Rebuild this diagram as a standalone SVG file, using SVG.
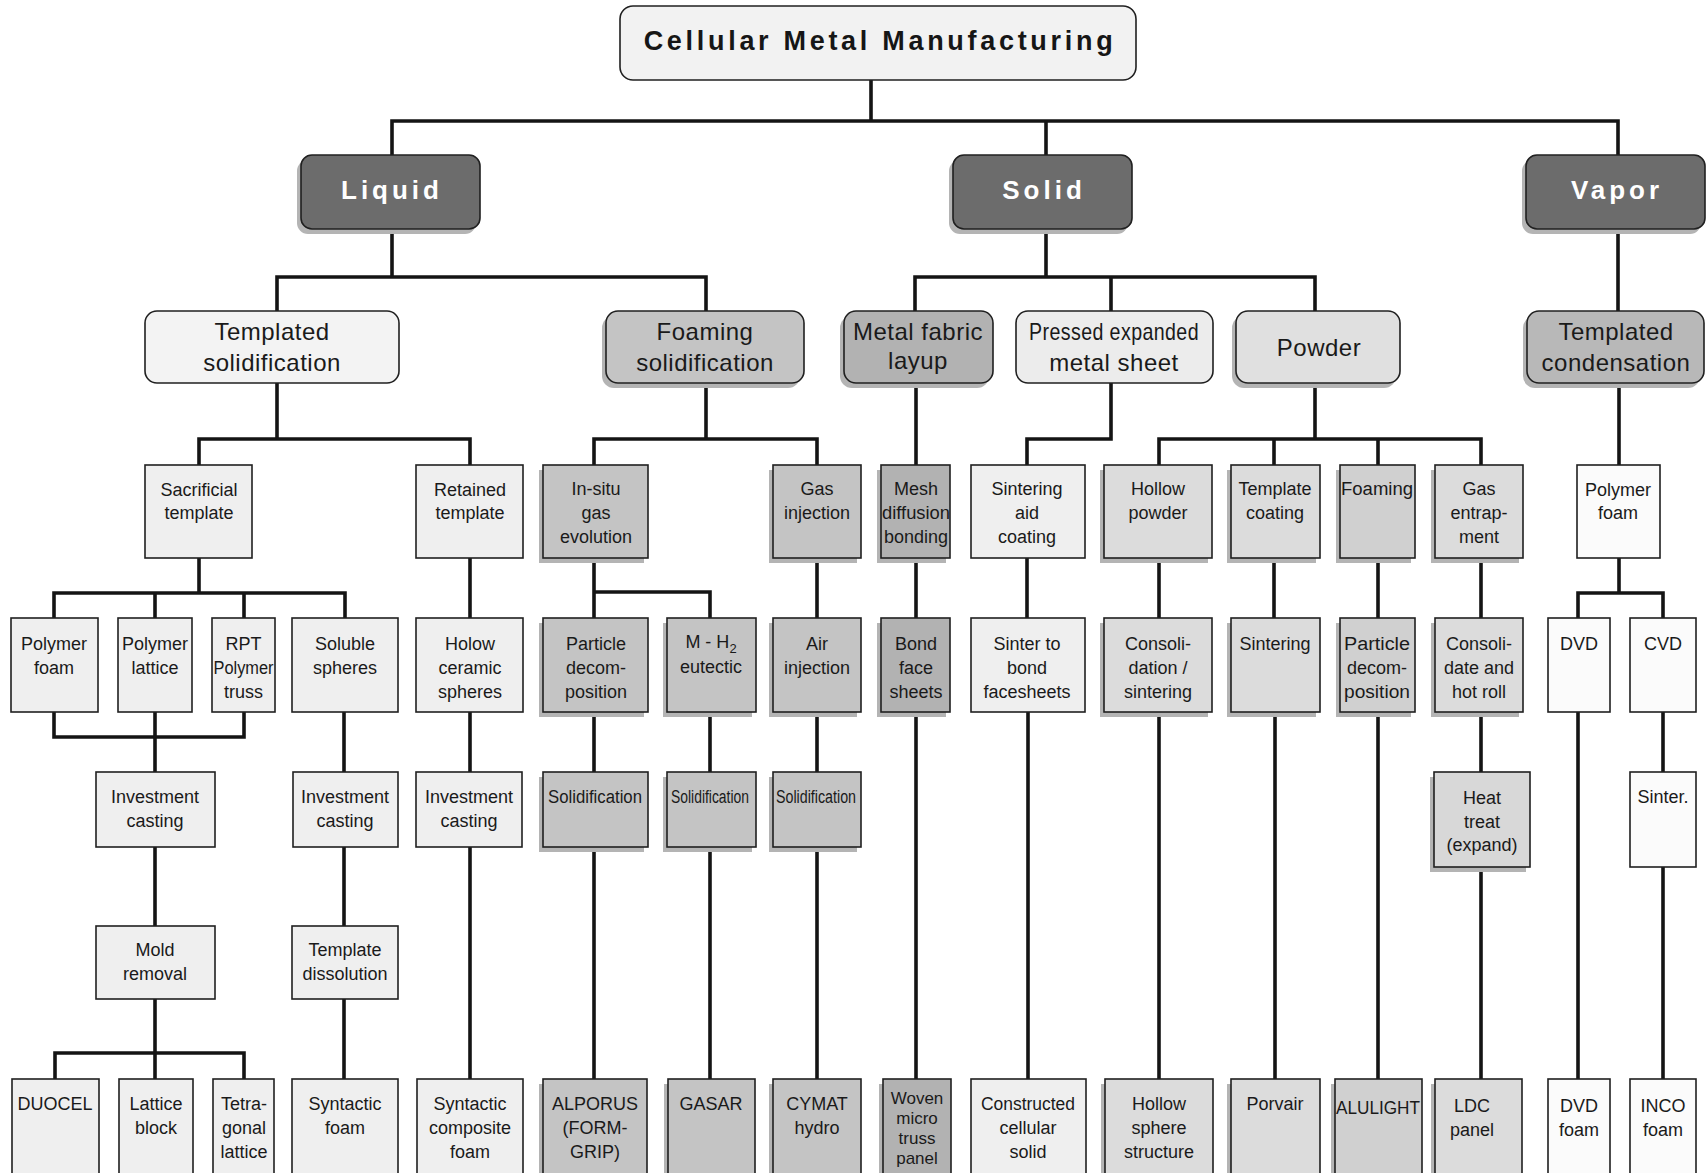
<svg xmlns="http://www.w3.org/2000/svg" width="1708" height="1173" viewBox="0 0 1708 1173">
<style>
.bg{fill:#ffffff}
.c{fill:none;stroke:#141414;stroke-width:3.6;stroke-linecap:square;stroke-linejoin:miter}
.b{stroke:#202020;stroke-width:1.6}
.sh{fill:#b4b4b4}
.w{fill:#fbfbfb}.l{fill:#efefef}.g1{fill:#dcdcdc}.g2{fill:#d0d0d0}.g3{fill:#c4c4c4}.g4{fill:#b2b2b2}.dk{fill:#6c6c6c}
.t{font-family:"Liberation Sans",Arial,Helvetica,sans-serif;font-size:18px;fill:#1a1a1a;text-anchor:middle}
.t2{font-family:"Liberation Sans",Arial,Helvetica,sans-serif;font-size:24px;fill:#1a1a1a;text-anchor:middle;letter-spacing:0.5px}
.t1{font-family:"Liberation Sans",Arial,Helvetica,sans-serif;font-size:26px;font-weight:bold;fill:#ffffff;text-anchor:middle;letter-spacing:4px}
.t0{font-family:"Liberation Sans",Arial,Helvetica,sans-serif;font-size:27px;font-weight:bold;fill:#161616;text-anchor:middle;letter-spacing:3.7px}
</style>
<rect class="bg" x="0" y="0" width="1708" height="1173"/>

<g id="connectors">
<path class="c" d="M871 80V121M392 121H1618M392 121V155M1046 121V155M1618 121V155"/>
<path class="c" d="M392 229V277M277 277H706M277 277V311M706 277V311"/>
<path class="c" d="M1046 229V277M915 277H1315M915 277V311M1111 277V311M1315 277V311"/>
<path class="c" d="M1618 229V311"/>
<path class="c" d="M277 383V439M199 439H470M199 439V465M470 439V465"/>
<path class="c" d="M706 383V439M594 439H817M594 439V465M817 439V465"/>
<path class="c" d="M916 383V465"/>
<path class="c" d="M1111 383V439H1027V465"/>
<path class="c" d="M1315 383V439M1159 439H1481M1159 439V465M1274 439V465M1378 439V465M1481 439V465"/>
<path class="c" d="M1619 383V465"/>
<path class="c" d="M199 558V593M54 593H345M54 593V618M155 593V618M244 593V618M345 593V618"/>
<path class="c" d="M470 558V618"/>
<path class="c" d="M594 558V618M594 592H710V618"/>
<path class="c" d="M817 558V618M916 558V618M1027 558V618"/>
<path class="c" d="M1159 558V618M1274 558V618M1378 558V618M1481 558V618"/>
<path class="c" d="M1619 558V593M1578 593H1663M1578 593V618M1663 593V618"/>
<path class="c" d="M54 712V737H244V712M155 712V772"/>
<path class="c" d="M344 712V772M470 712V772"/>
<path class="c" d="M594 712V772M710 712V772M817 712V772"/>
<path class="c" d="M916 712V1079M1028 712V1079M1159 712V1079M1275 712V1079M1378 712V1079"/>
<path class="c" d="M1481 712V772M1481 867V1079M1578 712V1079M1663 712V772M1663 867V1079"/>
<path class="c" d="M155 847V926M155 999V1053M55 1053H244M55 1053V1079M155 1053V1079M244 1053V1079"/>
<path class="c" d="M344 847V926M344 999V1079M470 847V1079"/>
<path class="c" d="M594 847V1079M710 847V1079M817 847V1079"/>
</g>

<g id="n-title">
<rect class="b" x="620" y="6" width="516" height="74" rx="13" fill="#f2f2f2"/>
<text class="t0" x="880" y="50">Cellular Metal Manufacturing</text>
</g>

<g id="n-liquid">
<rect class="sh" x="297" y="160" width="179" height="74" rx="11" fill="#9a9a9a"/>
<rect class="b dk" x="301" y="155" width="179" height="74" rx="11"/>
<text class="t1" x="392" y="199">Liquid</text>
</g>
<g id="n-solid">
<rect class="sh" x="949" y="160" width="179" height="74" rx="11"/>
<rect class="b dk" x="953" y="155" width="179" height="74" rx="11"/>
<text class="t1" x="1044" y="199">Solid</text>
</g>
<g id="n-vapor">
<rect class="sh" x="1522" y="160" width="179" height="74" rx="11"/>
<rect class="b dk" x="1526" y="155" width="179" height="74" rx="11"/>
<text class="t1" x="1617" y="199">Vapor</text>
</g>

<g id="n-templated-solidification">
<rect class="b" x="145" y="311" width="254" height="72" rx="12" fill="#f3f3f3"/>
<text class="t2"><tspan x="272" y="340">Templated</tspan><tspan x="272" y="371">solidification</tspan></text>
</g>
<g id="n-foaming-solidification">
<rect class="sh" x="602" y="316" width="198" height="72" rx="12"/>
<rect class="b g3" x="606" y="311" width="198" height="72" rx="12"/>
<text class="t2"><tspan x="705" y="340">Foaming</tspan><tspan x="705" y="371">solidification</tspan></text>
</g>
<g id="n-metal-fabric">
<rect class="sh" x="840" y="316" width="149" height="72" rx="12"/>
<rect class="b g4" x="844" y="311" width="149" height="72" rx="12"/>
<text class="t2"><tspan x="918" y="340">Metal fabric</tspan><tspan x="918" y="369">layup</tspan></text>
</g>
<g id="n-pressed">
<rect class="b" x="1016" y="311" width="197" height="72" rx="12" fill="#ececec"/>
<text class="t2"><tspan x="1114" y="340" textLength="170" lengthAdjust="spacingAndGlyphs">Pressed expanded</tspan><tspan x="1114" y="371">metal sheet</tspan></text>
</g>
<g id="n-powder">
<rect class="sh" x="1232" y="316" width="164" height="72" rx="12" fill="#cccccc"/>
<rect class="b" x="1236" y="311" width="164" height="72" rx="12" fill="#e0e0e0"/>
<text class="t2" x="1319" y="356">Powder</text>
</g>
<g id="n-templated-condensation">
<rect class="sh" x="1523" y="316" width="177" height="72" rx="12"/>
<rect class="b" x="1527" y="311" width="177" height="72" rx="12" fill="#b8b8b8"/>
<text class="t2"><tspan x="1616" y="340">Templated</tspan><tspan x="1616" y="371">condensation</tspan></text>
</g>

<!-- level 3 -->
<g id="n-sacrificial">
<rect class="b l" x="145" y="465" width="107" height="93"/>
<text class="t"><tspan x="199" y="496">Sacrificial</tspan><tspan x="199" y="519">template</tspan></text>
</g>
<g id="n-retained">
<rect class="b l" x="416" y="465" width="107" height="93"/>
<text class="t"><tspan x="470" y="496">Retained</tspan><tspan x="470" y="519">template</tspan></text>
</g>
<g id="n-insitu">
<rect class="sh" x="539" y="470" width="105" height="93"/>
<rect class="b g3" x="543" y="465" width="105" height="93"/>
<text class="t"><tspan x="596" y="495">In-situ</tspan><tspan x="596" y="519">gas</tspan><tspan x="596" y="543">evolution</tspan></text>
</g>
<g id="n-gas-injection">
<rect class="sh" x="769" y="470" width="88" height="93"/>
<rect class="b g3" x="773" y="465" width="88" height="93"/>
<text class="t"><tspan x="817" y="495">Gas</tspan><tspan x="817" y="519">injection</tspan></text>
</g>
<g id="n-mesh">
<rect class="sh" x="877" y="470" width="69" height="93"/>
<rect class="b g4" x="881" y="465" width="69" height="93"/>
<text class="t"><tspan x="916" y="495">Mesh</tspan><tspan x="916" y="519" textLength="68" lengthAdjust="spacingAndGlyphs">diffusion</tspan><tspan x="916" y="543">bonding</tspan></text>
</g>
<g id="n-sintering-aid">
<rect class="b l" x="971" y="465" width="114" height="93"/>
<text class="t"><tspan x="1027" y="495">Sintering</tspan><tspan x="1027" y="519">aid</tspan><tspan x="1027" y="543">coating</tspan></text>
</g>
<g id="n-hollow-powder">
<rect class="sh" x="1100" y="470" width="108" height="93" fill="#c8c8c8"/>
<rect class="b g1" x="1104" y="465" width="108" height="93"/>
<text class="t"><tspan x="1158" y="495">Hollow</tspan><tspan x="1158" y="519">powder</tspan></text>
</g>
<g id="n-template-coating">
<rect class="sh" x="1227" y="470" width="89" height="93" fill="#c8c8c8"/>
<rect class="b g1" x="1231" y="465" width="89" height="93"/>
<text class="t"><tspan x="1275" y="495">Template</tspan><tspan x="1275" y="519">coating</tspan></text>
</g>
<g id="n-foaming">
<rect class="sh" x="1336" y="470" width="75" height="93" fill="#c0c0c0"/>
<rect class="b g2" x="1340" y="465" width="75" height="93"/>
<text class="t" x="1377" y="495" textLength="72" lengthAdjust="spacingAndGlyphs">Foaming</text>
</g>
<g id="n-gas-entrapment">
<rect class="sh" x="1431" y="470" width="88" height="93" fill="#c8c8c8"/>
<rect class="b g1" x="1435" y="465" width="88" height="93"/>
<text class="t"><tspan x="1479" y="495">Gas</tspan><tspan x="1479" y="519">entrap-</tspan><tspan x="1479" y="543">ment</tspan></text>
</g>
<g id="n-polymer-foam-v">
<rect class="b w" x="1577" y="465" width="83" height="93"/>
<text class="t"><tspan x="1618" y="496">Polymer</tspan><tspan x="1618" y="519">foam</tspan></text>
</g>

<!-- level 4 -->
<g id="n-polymer-foam">
<rect class="b l" x="11" y="618" width="87" height="94"/>
<text class="t"><tspan x="54" y="650">Polymer</tspan><tspan x="54" y="674">foam</tspan></text>
</g>
<g id="n-polymer-lattice">
<rect class="b l" x="118" y="618" width="74" height="94"/>
<text class="t"><tspan x="155" y="650">Polymer</tspan><tspan x="155" y="674">lattice</tspan></text>
</g>
<g id="n-rpt">
<rect class="b l" x="212" y="618" width="63" height="94"/>
<text class="t"><tspan x="243.5" y="650">RPT</tspan><tspan x="243.5" y="674" textLength="60" lengthAdjust="spacingAndGlyphs">Polymer</tspan><tspan x="243.5" y="698">truss</tspan></text>
</g>
<g id="n-soluble">
<rect class="b l" x="292" y="618" width="106" height="94"/>
<text class="t"><tspan x="345" y="650">Soluble</tspan><tspan x="345" y="674">spheres</tspan></text>
</g>
<g id="n-holow">
<rect class="b l" x="416" y="618" width="107" height="94"/>
<text class="t"><tspan x="470" y="650">Holow</tspan><tspan x="470" y="674">ceramic</tspan><tspan x="470" y="698">spheres</tspan></text>
</g>
<g id="n-particle-l">
<rect class="sh" x="539" y="623" width="105" height="94"/>
<rect class="b g3" x="543" y="618" width="105" height="94"/>
<text class="t"><tspan x="596" y="650">Particle</tspan><tspan x="596" y="674">decom-</tspan><tspan x="596" y="698">position</tspan></text>
</g>
<g id="n-mh2">
<rect class="sh" x="663" y="623" width="89" height="94"/>
<rect class="b g3" x="667" y="618" width="89" height="94"/>
<text class="t"><tspan x="711" y="648">M - H<tspan dy="5" font-size="13">2</tspan></tspan><tspan x="711" y="673">eutectic</tspan></text>
</g>
<g id="n-air">
<rect class="sh" x="769" y="623" width="88" height="94"/>
<rect class="b g3" x="773" y="618" width="88" height="94"/>
<text class="t"><tspan x="817" y="650">Air</tspan><tspan x="817" y="674">injection</tspan></text>
</g>
<g id="n-bond">
<rect class="sh" x="877" y="623" width="69" height="94"/>
<rect class="b g4" x="881" y="618" width="69" height="94"/>
<text class="t"><tspan x="916" y="650">Bond</tspan><tspan x="916" y="674">face</tspan><tspan x="916" y="698">sheets</tspan></text>
</g>
<g id="n-sinter-bond">
<rect class="b l" x="971" y="618" width="114" height="94"/>
<text class="t"><tspan x="1027" y="650">Sinter to</tspan><tspan x="1027" y="674">bond</tspan><tspan x="1027" y="698">facesheets</tspan></text>
</g>
<g id="n-consolidation">
<rect class="sh" x="1100" y="623" width="108" height="94" fill="#c8c8c8"/>
<rect class="b g1" x="1104" y="618" width="108" height="94"/>
<text class="t"><tspan x="1158" y="650">Consoli-</tspan><tspan x="1158" y="674">dation /</tspan><tspan x="1158" y="698">sintering</tspan></text>
</g>
<g id="n-sintering">
<rect class="sh" x="1227" y="623" width="89" height="94" fill="#c8c8c8"/>
<rect class="b g1" x="1231" y="618" width="89" height="94"/>
<text class="t" x="1275" y="650">Sintering</text>
</g>
<g id="n-particle-p">
<rect class="sh" x="1336" y="623" width="75" height="94" fill="#c0c0c0"/>
<rect class="b g2" x="1340" y="618" width="75" height="94"/>
<text class="t"><tspan x="1377" y="650" textLength="66" lengthAdjust="spacingAndGlyphs">Particle</tspan><tspan x="1377" y="674">decom-</tspan><tspan x="1377" y="698" textLength="66" lengthAdjust="spacingAndGlyphs">position</tspan></text>
</g>
<g id="n-consolidate">
<rect class="sh" x="1431" y="623" width="88" height="94" fill="#c8c8c8"/>
<rect class="b g1" x="1435" y="618" width="88" height="94"/>
<text class="t"><tspan x="1479" y="650">Consoli-</tspan><tspan x="1479" y="674">date and</tspan><tspan x="1479" y="698">hot roll</tspan></text>
</g>
<g id="n-dvd">
<rect class="b w" x="1548" y="618" width="62" height="94"/>
<text class="t" x="1579" y="650">DVD</text>
</g>
<g id="n-cvd">
<rect class="b w" x="1630" y="618" width="66" height="94"/>
<text class="t" x="1663" y="650">CVD</text>
</g>

<!-- level 5 -->
<g id="n-invest-1">
<rect class="b l" x="96" y="772" width="119" height="75"/>
<text class="t"><tspan x="155" y="803">Investment</tspan><tspan x="155" y="827">casting</tspan></text>
</g>
<g id="n-invest-2">
<rect class="b l" x="293" y="772" width="105" height="75"/>
<text class="t"><tspan x="345" y="803">Investment</tspan><tspan x="345" y="827">casting</tspan></text>
</g>
<g id="n-invest-3">
<rect class="b l" x="416" y="772" width="106" height="75"/>
<text class="t"><tspan x="469" y="803">Investment</tspan><tspan x="469" y="827">casting</tspan></text>
</g>
<g id="n-solid-1">
<rect class="sh" x="539" y="777" width="105" height="75"/>
<rect class="b g3" x="543" y="772" width="105" height="75"/>
<text class="t" x="595" y="803" textLength="94" lengthAdjust="spacingAndGlyphs">Solidification</text>
</g>
<g id="n-solid-2">
<rect class="sh" x="663" y="777" width="89" height="75"/>
<rect class="b g3" x="667" y="772" width="89" height="75"/>
<text class="t" x="710" y="803" textLength="78" lengthAdjust="spacingAndGlyphs">Solidification</text>
</g>
<g id="n-solid-3">
<rect class="sh" x="769" y="777" width="88" height="75"/>
<rect class="b g3" x="773" y="772" width="88" height="75"/>
<text class="t" x="816" y="803" textLength="80" lengthAdjust="spacingAndGlyphs">Solidification</text>
</g>
<g id="n-heat-treat">
<rect class="sh" x="1430" y="777" width="96" height="95" fill="#c4c4c4"/>
<rect class="b" x="1434" y="772" width="96" height="95" fill="#d8d8d8"/>
<text class="t"><tspan x="1482" y="804">Heat</tspan><tspan x="1482" y="828">treat</tspan><tspan x="1482" y="851">(expand)</tspan></text>
</g>
<g id="n-sinter">
<rect class="b w" x="1630" y="772" width="66" height="95"/>
<text class="t" x="1663" y="803">Sinter.</text>
</g>

<!-- level 6 -->
<g id="n-mold">
<rect class="b l" x="96" y="926" width="119" height="73"/>
<text class="t"><tspan x="155" y="956">Mold</tspan><tspan x="155" y="980">removal</tspan></text>
</g>
<g id="n-template-diss">
<rect class="b l" x="292" y="926" width="106" height="73"/>
<text class="t"><tspan x="345" y="956">Template</tspan><tspan x="345" y="980">dissolution</tspan></text>
</g>

<!-- leaves -->
<g id="n-duocel">
<rect class="b l" x="12" y="1079" width="87" height="98"/>
<text class="t" x="55" y="1110">DUOCEL</text>
</g>
<g id="n-lattice-block">
<rect class="b l" x="119" y="1079" width="74" height="98"/>
<text class="t"><tspan x="156" y="1110">Lattice</tspan><tspan x="156" y="1134">block</tspan></text>
</g>
<g id="n-tetragonal">
<rect class="b l" x="213" y="1079" width="61" height="98"/>
<text class="t"><tspan x="244" y="1110">Tetra-</tspan><tspan x="244" y="1134">gonal</tspan><tspan x="244" y="1158">lattice</tspan></text>
</g>
<g id="n-syntactic-foam">
<rect class="b l" x="292" y="1079" width="106" height="98"/>
<text class="t"><tspan x="345" y="1110">Syntactic</tspan><tspan x="345" y="1134">foam</tspan></text>
</g>
<g id="n-syntactic-composite">
<rect class="b l" x="417" y="1079" width="106" height="98"/>
<text class="t"><tspan x="470" y="1110">Syntactic</tspan><tspan x="470" y="1134">composite</tspan><tspan x="470" y="1158">foam</tspan></text>
</g>
<g id="n-alporus">
<rect class="sh" x="539" y="1084" width="104" height="98"/>
<rect class="b g3" x="543" y="1079" width="104" height="98"/>
<text class="t"><tspan x="595" y="1110">ALPORUS</tspan><tspan x="595" y="1134">(FORM-</tspan><tspan x="595" y="1158">GRIP)</tspan></text>
</g>
<g id="n-gasar">
<rect class="sh" x="664" y="1084" width="87" height="98"/>
<rect class="b g3" x="668" y="1079" width="87" height="98"/>
<text class="t" x="711" y="1110">GASAR</text>
</g>
<g id="n-cymat">
<rect class="sh" x="769" y="1084" width="88" height="98"/>
<rect class="b g3" x="773" y="1079" width="88" height="98"/>
<text class="t"><tspan x="817" y="1110">CYMAT</tspan><tspan x="817" y="1134">hydro</tspan></text>
</g>
<g id="n-woven">
<rect class="sh" x="879" y="1084" width="68" height="98"/>
<rect class="b g4" x="883" y="1079" width="68" height="98"/>
<text class="t" style="font-size:17px"><tspan x="917" y="1104">Woven</tspan><tspan x="917" y="1124">micro</tspan><tspan x="917" y="1144">truss</tspan><tspan x="917" y="1164">panel</tspan></text>
</g>
<g id="n-constructed">
<rect class="b l" x="971" y="1079" width="115" height="98"/>
<text class="t"><tspan x="1028" y="1110" textLength="94" lengthAdjust="spacingAndGlyphs">Constructed</tspan><tspan x="1028" y="1134">cellular</tspan><tspan x="1028" y="1158">solid</tspan></text>
</g>
<g id="n-hollow-sphere">
<rect class="sh" x="1101" y="1084" width="108" height="98" fill="#c8c8c8"/>
<rect class="b g1" x="1105" y="1079" width="108" height="98"/>
<text class="t"><tspan x="1159" y="1110">Hollow</tspan><tspan x="1159" y="1134">sphere</tspan><tspan x="1159" y="1158">structure</tspan></text>
</g>
<g id="n-porvair">
<rect class="sh" x="1227" y="1084" width="89" height="98" fill="#c8c8c8"/>
<rect class="b g1" x="1231" y="1079" width="89" height="98"/>
<text class="t" x="1275" y="1110">Porvair</text>
</g>
<g id="n-alulight">
<rect class="sh" x="1331" y="1084" width="87" height="98" fill="#c0c0c0"/>
<rect class="b g2" x="1335" y="1079" width="87" height="98"/>
<text class="t" x="1378" y="1114" textLength="84" lengthAdjust="spacingAndGlyphs">ALULIGHT</text>
</g>
<g id="n-ldc">
<rect class="sh" x="1431" y="1084" width="87" height="98" fill="#c8c8c8"/>
<rect class="b g1" x="1435" y="1079" width="87" height="98"/>
<text class="t"><tspan x="1472" y="1112">LDC</tspan><tspan x="1472" y="1136">panel</tspan></text>
</g>
<g id="n-dvd-foam">
<rect class="b w" x="1548" y="1079" width="62" height="98"/>
<text class="t"><tspan x="1579" y="1112">DVD</tspan><tspan x="1579" y="1136">foam</tspan></text>
</g>
<g id="n-inco">
<rect class="b w" x="1630" y="1079" width="66" height="98"/>
<text class="t"><tspan x="1663" y="1112">INCO</tspan><tspan x="1663" y="1136">foam</tspan></text>
</g>
</svg>
